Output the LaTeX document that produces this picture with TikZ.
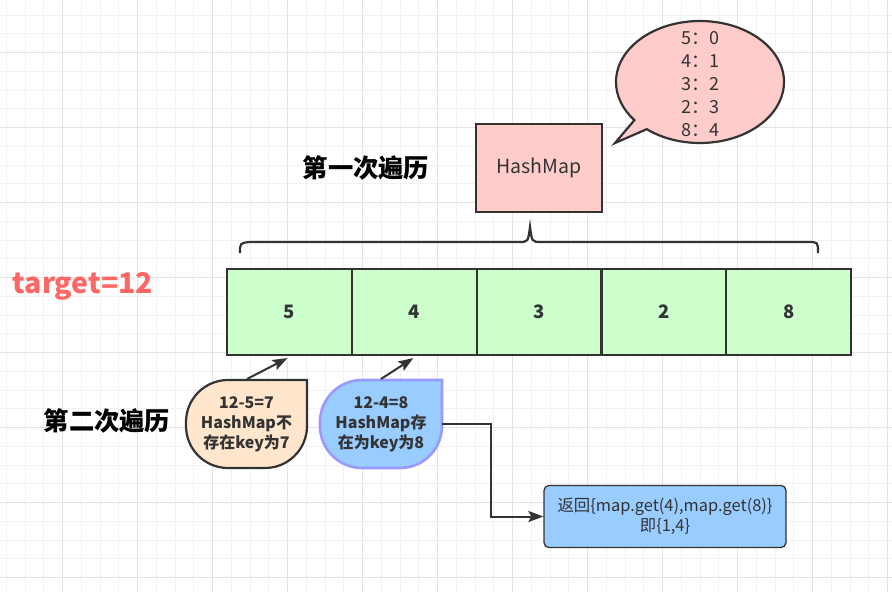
\documentclass[tikz,border=0pt]{standalone}
\usepackage{fontspec}
\setmainfont{Noto Sans CJK SC}
\usetikzlibrary{arrows.meta,shapes.callouts,calc}
\definecolor{dk}{HTML}{333333}
\definecolor{cellg}{HTML}{CCFFCC}
\definecolor{pinkf}{HTML}{FFCCCC}
\definecolor{orf}{HTML}{FFE6CC}
\definecolor{bluef}{HTML}{99CCFF}
\definecolor{bluel}{HTML}{9999FF}
\definecolor{redt}{HTML}{FF6666}
\definecolor{gminor}{HTML}{F2F2F2}
\definecolor{gmajor}{HTML}{E3E3E3}
\tikzset{
  cell/.style={draw=dk, line width=2.2pt, fill=cellg, minimum width=124.8pt, minimum height=86pt, inner sep=0pt, font=\fontsize{18.5}{20}\selectfont\bfseries, text=dk},
  mapbox/.style={draw=dk, line width=2.2pt, fill=pinkf, minimum width=126pt, minimum height=88pt, inner sep=0pt, font=\fontsize{19.5}{22}\selectfont, text=dk},
  title/.style={font=\fontsize{25.3}{28}\selectfont\bfseries, text=black, inner sep=0pt},
  droptext/.style={minimum width=121pt, minimum height=88pt, inner sep=0pt, align=center, font=\fontsize{16}{20}\selectfont\bfseries, text=dk},
  arr/.style={draw=dk, line width=2pt, -{Stealth[length=15pt,width=11pt,inset=3pt]}},
  retbox/.style={draw=dk, line width=1.3pt, fill=bluef, rounded corners=5pt, minimum width=242pt, minimum height=62pt, inner sep=0pt, align=center, font=\fontsize{16.4}{20}\selectfont, text=dk},
}
\begin{document}
\begin{tikzpicture}[x=1pt,y=-1pt]
\useasboundingbox (0,0) rectangle (892,592);
\fill[white] (0,0) rectangle (892,592);
% grid
\foreach \i in {0,...,47} {
  \draw[gminor, line width=1pt] ({6.45+18.75*\i},0) -- ({6.45+18.75*\i},592);
}
\foreach \i in {0,...,31} {
  \draw[gminor, line width=1pt] (0,{15.2+18.75*\i}) -- (892,{15.2+18.75*\i});
}
\foreach \i in {0,...,11} {
  \draw[gmajor, line width=1pt] ({62.7+75*\i},0) -- ({62.7+75*\i},592);
}
\foreach \i in {0,...,7} {
  \draw[gmajor, line width=1pt] (0,{52.7+75*\i}) -- (892,{52.7+75*\i});
}

% speech bubble
\node[ellipse callout, draw=dk, line width=2.2pt, fill=pinkf, minimum width=168pt, minimum height=122pt, inner sep=0pt,
      callout absolute pointer={(615,143)}, callout pointer arc=12] (bub) at (700,82) {};
\node[align=center, inner sep=0pt, font=\fontsize{18}{23}\selectfont, text=dk] (bubtxt) at (700,84)
  {5：0\\4：1\\3：2\\2：3\\8：4};

% HashMap box
\node[mapbox] (map) at (539,168) {HashMap};
\node[title] (t1) at (366,168) {第一次遍历};

% brace
\draw[dk, line width=2.2pt] (240,253) .. controls (240,243) .. (250,242) -- (519,242)
  .. controls (528,242) .. (530,227) .. controls (532,242) .. (541,242) -- (808,242)
  .. controls (818,242) .. (818,253);

% array
\node[cell] (c1) at (289.5,312) {5};
\node[cell] (c2) at (414.3,312) {4};
\node[cell] (c3) at (539.1,312) {3};
\node[cell] (c4) at (663.9,312) {2};
\node[cell] (c5) at (788.7,312) {8};

\node[font=\fontsize{28.5}{30}\selectfont\bfseries, text=redt, inner sep=0pt] (tgt) at (83,286) {target=12};
\node[title] (t2) at (107,421) {第二次遍历};

% teardrops
\draw[dk, line width=2.2pt, fill=orf] (307,380) [rounded corners=42pt] -- (307,468) -- (186,468) -- (186,380) [sharp corners] -- cycle;
\node[droptext] (d1) at (246.5,424) {12-5=7\\HashMap不\\存在key为7};
\draw[bluel, line width=2.6pt, fill=bluef] (442,380) [rounded corners=42pt] -- (442,468) -- (320,468) -- (320,380) [sharp corners] -- cycle;
\node[droptext] (d2) at (381,424) {12-4=8\\HashMap存\\在为key为8};

\coordinate (a1) at (247,379);
\coordinate (a2) at (381,379);
\draw[arr] (a1) -- ($(c1.south)+(-2,2)$);
\draw[arr] (a2) -- ($(c2.south)+(-1,2)$);

% return box
\node[retbox] (ret) at (665,516.5) {返回\{map.get(4),map.get(8)\}\\即\{1,4\}};
\draw[arr] (d2.east) -- ++(49,0) |- (ret.west);
\end{tikzpicture}
\end{document}
